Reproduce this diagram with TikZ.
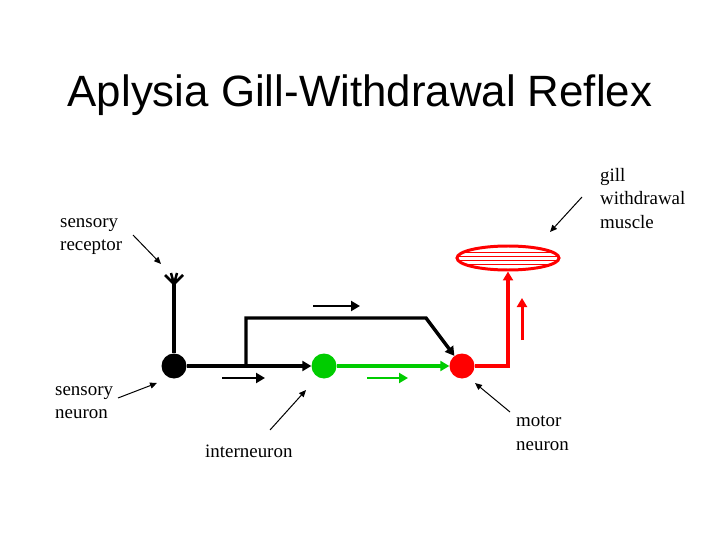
\documentclass[tikz,border=0pt]{standalone}
\usepackage{fontspec}
\setmainfont{Liberation Serif}
\newfontfamily\titlefont{Liberation Sans}
\usetikzlibrary{arrows.meta,shapes.geometric}
\begin{document}
\begin{tikzpicture}[x=1bp,y=-1bp,
  ax/.style={line width=3.5pt,-{Triangle[length=9bp,width=10bp]}},
  ptr/.style={line width=1pt,-{Triangle[length=7bp,width=6bp]}},
  lbl/.style={font=\fontsize{19}{23.5}\selectfont,align=left,inner sep=0}]
\useasboundingbox (0,0) rectangle (720,540);
\node[font=\titlefont\fontsize{44}{48}\selectfont] (title) at (360,95) {Aplysia Gill-Withdrawal Reflex};
% neurons
\node[circle,fill=black,minimum size=25bp,inner sep=0] (sn) at (174,366) {};
\node[circle,fill=green!80!black,minimum size=25bp,inner sep=0] (in) at (324,366) {};
\node[circle,fill=red,minimum size=25bp,inner sep=0] (mn) at (462,366) {};
\node[ellipse,draw=red,line width=3pt,minimum width=102bp,minimum height=24bp,inner sep=0] (mus) at (508,258) {};
\begin{scope}
\clip (508,258) ellipse (50bp and 11bp);
\foreach \yy in {252,256,260,264} \draw[red,line width=0.6pt] (450,\yy) -- (566,\yy);
\end{scope}
% receptor
\coordinate (rt) at (174,284);
\draw[line width=3.5pt] (sn) -- (rt);
\draw[line width=2.5pt] (rt) -- (165,275) (rt) -- (171,273) (rt) -- (177,273) (rt) -- (183,275);
% axons
\draw[ax] (sn) -- (in);
\coordinate (b1) at (246,366); \coordinate (b2) at (246,318); \coordinate (b3) at (426,318);
\draw[ax] (b1) -- (b2) -- (b3) -- (mn);
\draw[ax,green!80!black] (in) -- (mn);
\coordinate (r1) at (508,366);
\draw[ax,red] (mn) -- (r1) -- (mus);
% direction arrows
\coordinate (d1) at (313,306); \coordinate (d2) at (360,306);
\draw[ax,line width=3pt] (d1) -- (d2);
\coordinate (d3) at (222,378); \coordinate (d4) at (265,378);
\draw[ax,line width=3pt] (d3) -- (d4);
\coordinate (d5) at (367,378); \coordinate (d6) at (408,378);
\draw[ax,line width=3pt,green!80!black] (d5) -- (d6);
\coordinate (d7) at (522,340); \coordinate (d8) at (522,298);
\draw[ax,line width=3pt,red] (d7) -- (d8);
% labels
\node[lbl,anchor=north west] (l1) at (60,218) {sensory\\receptor};
\node[lbl,anchor=north west] (l2) at (600,168) {gill\\withdrawal\\muscle};
\node[lbl,anchor=north west] (l3) at (55,386) {sensory\\neuron};
\node[lbl,anchor=north west] (l4) at (205,445) {interneuron};
\node[lbl,anchor=north west] (l5) at (516,416) {motor\\neuron};
\coordinate (p1) at (133,235); \coordinate (q1) at (161,264);
\draw[ptr] (p1) -- (q1);
\coordinate (p2) at (582,197); \coordinate (q2) at (550,232);
\draw[ptr] (p2) -- (q2);
\coordinate (p3) at (118,398); \coordinate (q3) at (157,383);
\draw[ptr] (p3) -- (q3);
\coordinate (p4) at (270,430); \coordinate (q4) at (306,390);
\draw[ptr] (p4) -- (q4);
\coordinate (p5) at (510,412); \coordinate (q5) at (475,383);
\draw[ptr] (p5) -- (q5);
\end{tikzpicture}
\end{document}
